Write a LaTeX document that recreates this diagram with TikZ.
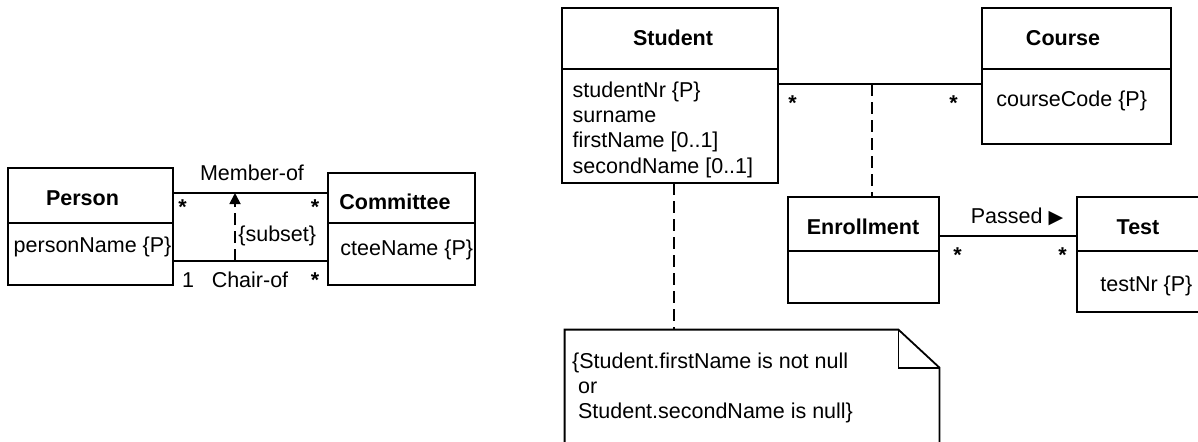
\documentclass[tikz,border=0pt]{standalone}
\usepackage{fontspec}
\setmainfont{Liberation Sans}
\newfontfamily\symfont{DejaVu Sans}
\usetikzlibrary{arrows.meta}
\tikzset{
  classbox/.style={draw, rectangle, inner sep=0pt, line width=0.9pt},
  lbl/.style={anchor=base, inner sep=0pt},
  attr/.style={anchor=base west, inner sep=0pt},
  relline/.style={line width=0.9pt},
  depline/.style={line width=0.9pt, dash pattern=on 6pt off 3pt},
}
\newcommand{\mult}{\textbf{*}}
\newcommand{\rightTri}{{\symfont\fontsize{9.5}{11}\selectfont ▶}}

\begin{document}
\begin{tikzpicture}[x=0.5pt,y=-0.5pt,font=\fontsize{10.75}{13}\selectfont]
\useasboundingbox (0,0) rectangle (1198,441);
\clip (0,0) rectangle (1198,441);
% Person -- Committee
\node[classbox, minimum width=82.5pt, minimum height=27.5pt] (personHead) at (90.5,195.5) {};
\node[classbox, minimum width=82.5pt, minimum height=31pt] (personBody) at (90.5,254) {};
\node[classbox, minimum width=73.5pt, minimum height=25pt] (cteeHead) at (401.5,198) {};
\node[classbox, minimum width=73.5pt, minimum height=31pt] (cteeBody) at (401.5,254) {};
\node[lbl] (personTitle) at (82.5,205.7) {\textbf{Person}};
\node[attr] (personAttr) at (13.3,252.7) {personName \{P\}};
\node[lbl] (cteeTitle) at (395,209) {\textbf{Committee}};
\node[attr] (cteeAttr) at (340,255) {cteeName \{P\}};
\coordinate (memberMid) at (235,193);
\coordinate (chairMid) at (235,261);
\draw[relline] (personHead.east |- memberMid) -- (cteeHead.west |- memberMid);
\draw[relline] (personBody.east |- chairMid) -- (cteeBody.west |- chairMid);
\draw[depline, -{Triangle[width=5.5pt,length=5.5pt]}] (chairMid) -- (memberMid);
\node[lbl] (memberLbl) at (252,180.7) {Member-of};
\node[attr] (subsetLbl) at (238,241.7) {\{subset\}};
\node[lbl] (chairLbl) at (250,287.7) {Chair-of};
\node[lbl] (chairOne) at (188,287.7) {1};
\node[lbl] (starPM) at (182.5,214.4) {\mult};
\node[lbl] (starCM) at (315,214.4) {\mult};
\node[lbl] (starCC) at (315,287.7) {\mult};
% Student -- Course, Enrollment -- Test
\node[classbox, minimum width=108pt, minimum height=30.5pt] (studentHead) at (670,38.5) {};
\node[classbox, minimum width=108pt, minimum height=57pt] (studentBody) at (670,126) {};
\node[classbox, minimum width=94.5pt, minimum height=30.5pt] (courseHead) at (1076.5,38.5) {};
\node[classbox, minimum width=94.5pt, minimum height=37.5pt] (courseBody) at (1076.5,106.5) {};
\node[classbox, minimum width=75.5pt, minimum height=27pt] (enrollHead) at (863.5,224) {};
\node[classbox, minimum width=75.5pt, minimum height=26pt] (enrollBody) at (863.5,277) {};
\node[classbox, minimum width=61pt, minimum height=27pt] (testHead) at (1138,224) {};
\node[classbox, minimum width=61pt, minimum height=30.5pt] (testBody) at (1138,281.5) {};
\node[lbl] (studentTitle) at (673,45) {\textbf{Student}};
\node[attr] (studentAttrA) at (572.3,97.3) {studentNr \{P\}};
\node[attr] (studentAttrB) at (572.3,122.6) {surname};
\node[attr] (studentAttrC) at (572.3,147.9) {firstName [0..1]};
\node[attr] (studentAttrD) at (572.3,173.2) {secondName [0..1]};
\node[lbl] (courseTitle) at (1063,45) {\textbf{Course}};
\node[attr] (courseAttr) at (996,106.7) {courseCode \{P\}};
\node[lbl] (enrollTitle) at (863,234.3) {\textbf{Enrollment}};
\node[lbl] (testTitle) at (1138,234.3) {\textbf{Test}};
\node[attr] (testAttr) at (1100,291.7) {testNr \{P\}};
\coordinate (takesMid) at (872,84);
\coordinate (passedY) at (1000,236);
\draw[relline] (studentBody.east |- takesMid) -- (courseBody.west |- takesMid);
\draw[depline] (takesMid) -- (takesMid |- enrollHead.north);
\draw[relline] (enrollHead.east |- passedY) -- (testHead.west |- passedY);
\node[lbl] (passedLbl) at (1017,223.3) {Passed \rightTri};
\node[lbl] (starSC) at (792.5,110.4) {\mult};
\node[lbl] (starCS) at (953.5,110.4) {\mult};
\node[lbl] (starET) at (957.5,262.4) {\mult};
\node[lbl] (starTE) at (1062.5,262.4) {\mult};
% constraint note
\node[minimum width=187pt, minimum height=70pt, inner sep=0pt] (noteBox) at (752,400) {};
\draw[relline] (noteBox.north west) -- ([xshift=-20.5pt]noteBox.north east)
  -- ([yshift=-19pt]noteBox.north east) -- (noteBox.south east)
  -- (noteBox.south west) -- cycle;
\draw[relline] ([xshift=-20.5pt]noteBox.north east) |- ([yshift=-19pt]noteBox.north east);
\node[attr] (noteLineA) at (571.7,368.3) {\{Student.firstName is not null};
\node[attr] (noteLineB) at (571.7,393.3) {\ or};
\node[attr] (noteLineC) at (571.7,418.3) {\ Student.secondName is null\}};
\coordinate (noteLink) at (674,183);
\draw[depline] (noteLink) -- (noteLink |- noteBox.north);
\end{tikzpicture}
\end{document}
